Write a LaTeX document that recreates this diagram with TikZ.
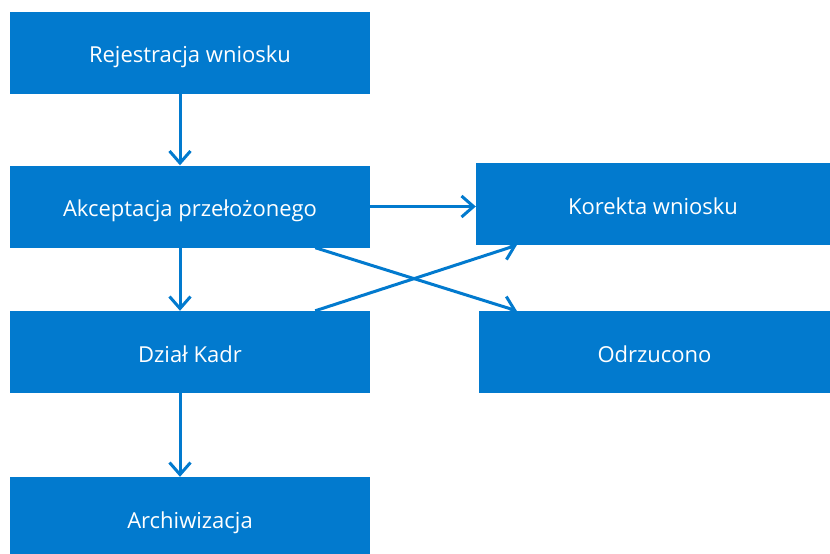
\documentclass[tikz,border=0pt]{standalone}
\usepackage{fontspec}
\setmainfont{Open Sans}
\usepackage{xcolor}
\usetikzlibrary{arrows.meta, positioning}

\definecolor{niebieski}{RGB}{2,122,206}

\tikzset{
    blok/.style={rectangle, fill=niebieski, text=white, minimum width=360pt,
        minimum height=82pt, inner sep=0pt, text height=24pt, text depth=4pt,
        font=\fontsize{22}{24}\selectfont},
    strzalka/.style={draw=niebieski, line width=3pt,
        -{Straight Barb[length=12pt, width=21pt, line width=3pt]}}
}

\begin{document}
\begin{tikzpicture}[x=1pt, y=1pt, node distance=150pt, on grid]
        \useasboundingbox (0,0) rectangle (830,-554);

        % Węzły
        \node[blok] (rej) at (190,-52.5) {Rejestracja wniosku};
        \node[blok] (akc) [below=154pt of rej] {Akceptacja przełożonego};
        \node[blok] (dzial) [below=145.5pt of akc] {Dział Kadr};
        \node[blok] (arch) [below=166pt of dzial] {Archiwizacja};
        \node[blok, minimum width=354pt] (kor) [right=463pt of akc, yshift=2.5pt] {Korekta wniosku};
        \node[blok, minimum width=351pt] (odr) [right=464.5pt of dzial] {Odrzucono};

        % Strzałki
        \draw[strzalka] ([xshift=-10pt]rej.south) -- ([xshift=-10pt]akc.north);
        \draw[strzalka] ([xshift=-10pt]akc.south) -- ([xshift=-10pt]dzial.north);
        \draw[strzalka] ([xshift=-10pt]dzial.south) -- ([xshift=-10pt]arch.north);
        \draw[strzalka] (akc.east) -- (akc.east -| kor.west);
        \draw[strzalka] ([xshift=-55pt]akc.south east) -- ([xshift=38pt]odr.north west);
        \draw[strzalka] ([xshift=-55pt]dzial.north east) -- ([xshift=41pt]kor.south west);
    \end{tikzpicture}
\end{document}
